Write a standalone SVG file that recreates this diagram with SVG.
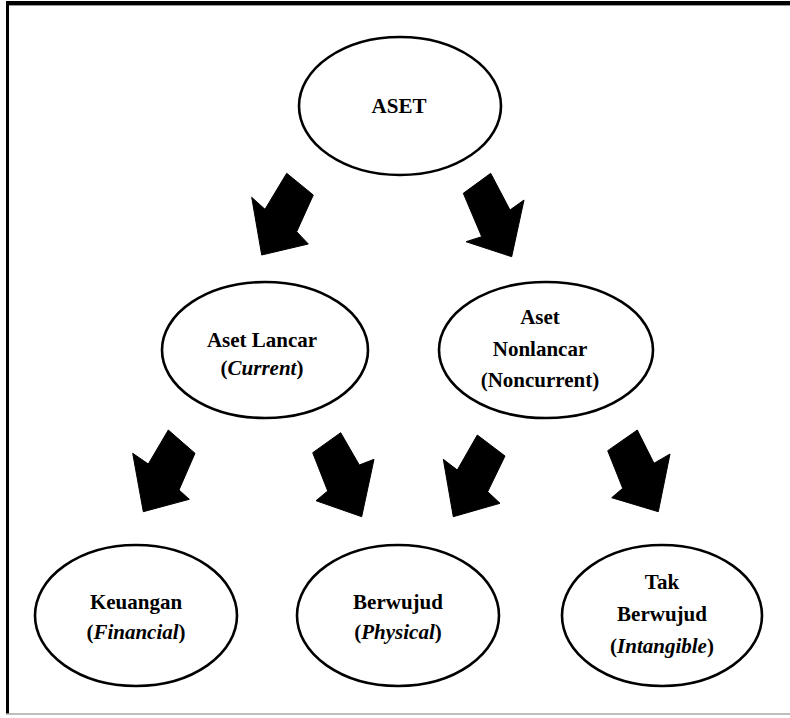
<svg xmlns="http://www.w3.org/2000/svg" width="790" height="718" viewBox="0 0 790 718">
<style>
.node ellipse{fill:#fff;stroke:#000;stroke-width:2.6}
.node text{font-family:"Liberation Serif","Times New Roman",serif;font-weight:bold;font-size:21px;fill:#000;text-anchor:middle}
.i{font-style:italic}
.arrow{fill:#000;stroke:#000;stroke-width:1;stroke-linejoin:miter}
</style>
<rect x="0" y="0" width="790" height="718" fill="#fff"/>
<g id="frame">
<rect x="6" y="1" width="784" height="4" fill="#000"/>
<line x1="6" y1="5.5" x2="790" y2="5.5" stroke="#999" stroke-width="1"/>
<rect x="6" y="1" width="3" height="713" fill="#000"/>
<line x1="6" y1="714" x2="790" y2="714" stroke="#aaa" stroke-width="1.5"/>
</g>
<g id="connectors">
<polygon class="arrow" points="286.7,173.3 313.3,195 296.7,231.7 308.3,244 261.7,255 251.7,197.3 265,209.3"/>
<polygon class="arrow" points="490.7,173.3 463.3,193.3 481.7,236.7 466,241.7 511.7,256.7 524,200 510,210"/>
<polygon class="arrow" points="168.3,430 195,453.3 179,490 189.3,499.3 143.3,511.7 132.7,453.3 148.3,464"/>
<polygon class="arrow" points="340.7,432.7 312.7,452.7 327.7,491 316,500.7 361.7,516.7 374,459.3 359.3,465"/>
<polygon class="arrow" points="477.3,435 505,456 487.7,491.7 500,503.3 453.3,516.7 443.3,459.3 457.3,470"/>
<polygon class="arrow" points="637.3,430 607.7,450.7 622.7,488.3 611.7,497.7 658.3,511.7 670,454 654,463.3"/>
</g>
<g id="aset" class="node">
<ellipse cx="400" cy="106" rx="101" ry="69"/>
<text x="399" y="113">ASET</text>
</g>
<g id="aset-lancar" class="node">
<ellipse cx="265" cy="350" rx="103" ry="68"/>
<text x="262" y="347">Aset Lancar</text>
<text x="262" y="375">(<tspan class="i">Current</tspan>)</text>
</g>
<g id="aset-nonlancar" class="node">
<ellipse cx="546" cy="350" rx="107" ry="68"/>
<text x="540" y="324">Aset</text>
<text x="540" y="356">Nonlancar</text>
<text x="540" y="387">(Noncurrent)</text>
</g>
<g id="keuangan" class="node">
<ellipse cx="136" cy="615.5" rx="101" ry="70.5"/>
<text x="136" y="609">Keuangan</text>
<text x="136" y="639">(<tspan class="i">Financial</tspan>)</text>
</g>
<g id="berwujud" class="node">
<ellipse cx="398" cy="615.5" rx="101" ry="70.5"/>
<text x="398" y="609">Berwujud</text>
<text x="398" y="639">(<tspan class="i">Physical</tspan>)</text>
</g>
<g id="tak-berwujud" class="node">
<ellipse cx="662" cy="615.5" rx="100" ry="70.5"/>
<text x="662" y="589">Tak</text>
<text x="662" y="621">Berwujud</text>
<text x="662" y="653">(<tspan class="i">Intangible</tspan>)</text>
</g>
</svg>
